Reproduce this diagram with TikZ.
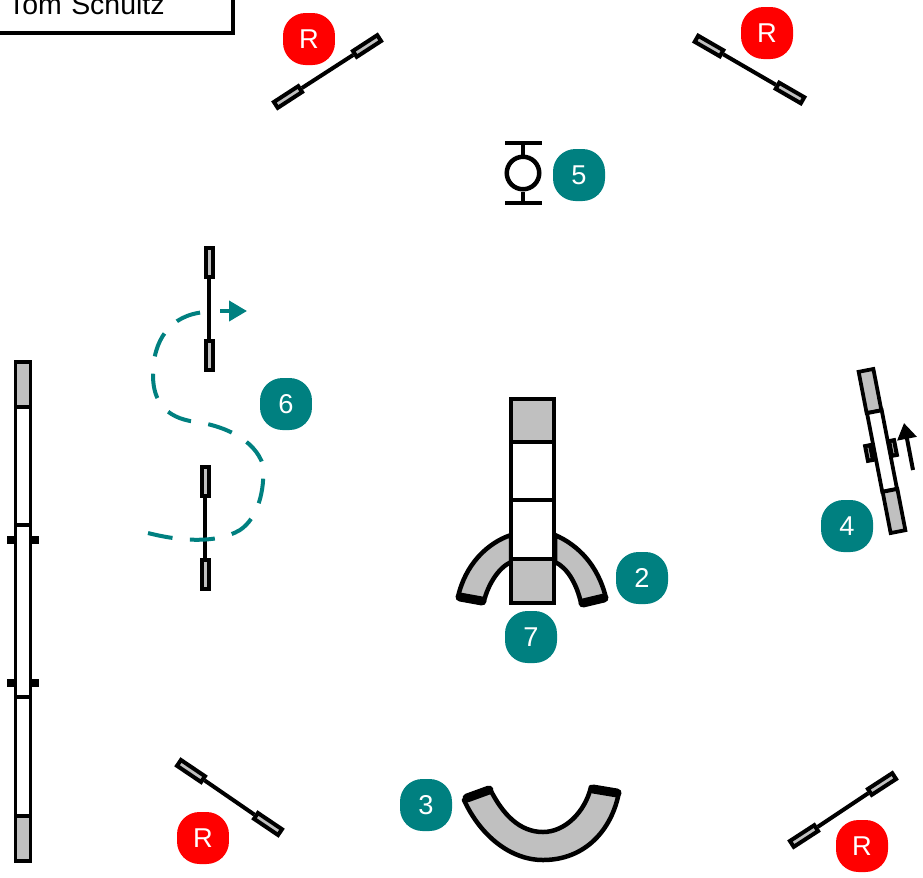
\documentclass[tikz,border=0pt]{standalone}
\usepackage{fontspec}
\setmainfont{Liberation Sans}
\usetikzlibrary{arrows.meta, shapes.geometric}
\definecolor{badgeteal}{HTML}{008080}
\definecolor{badgered}{HTML}{FF0000}
\definecolor{gearsilver}{HTML}{C0C0C0}

\begin{document}
\begin{tikzpicture}[
  x=0.02cm, y=-0.02cm,
  badge/.style={rectangle, fill=badgeteal, text=white, rounded corners=0.45cm, minimum size=1.04cm, inner sep=0pt, font=\fontsize{15.5}{15.5}\selectfont},
  refbadge/.style={badge, fill=badgered},
  wing/.style={rectangle, draw=black, fill=gearsilver, line width=0.08cm, minimum width=0.58cm, minimum height=0.14cm, inner sep=0pt},
  bar/.style={draw=black, line width=0.08cm},
  plank/.style={rectangle, draw=black, fill=white, line width=0.075cm, minimum width=0.3cm, inner sep=0pt},
  stub/.style={rectangle, draw=black, fill=gearsilver, line width=0.08cm, minimum width=0.1cm, minimum height=0.08cm, inner sep=0pt},
  tube/.style={draw=black, fill=gearsilver, line width=0.09cm, line join=round},
  tubeend/.style={draw=black, line width=0.18cm, line cap=round},
  walk/.style={draw=badgeteal, line width=0.08cm, dash pattern=on 0.5cm off 0.35cm},
  walkend/.style={draw=badgeteal, line width=0.08cm, -{Triangle[length=0.36cm, width=0.4cm]}}
]
  \useasboundingbox (0,0) rectangle (923,877);

  % Name card
  \node[rectangle, draw=black, line width=0.08cm, minimum width=4.86cm, minimum height=1.16cm, inner xsep=0.36cm, text width=4.14cm, align=left, font=\fontsize{16.2}{16.2}\selectfont] (namecard) at (111.5,4) {Tom Schultz};

  % Jumps
  \node[wing, rotate=33] (jumpAa) at (288,97) {};
  \node[wing, rotate=33] (jumpAb) at (367,46) {};
  \node[wing, rotate=-30] (jumpBa) at (709,46) {};
  \node[wing, rotate=-30] (jumpBb) at (790,93) {};
  \node[wing, rotate=-34] (jumpCa) at (191,771) {};
  \node[wing, rotate=-34] (jumpCb) at (268,824) {};
  \node[wing, rotate=33] (jumpDa) at (804,836) {};
  \node[wing, rotate=33] (jumpDb) at (882,784) {};
  \node[wing, rotate=90] (jumpEa) at (209,262) {};
  \node[wing, rotate=90] (jumpEb) at (209,355) {};
  \node[wing, rotate=90] (jumpFa) at (205,481) {};
  \node[wing, rotate=90] (jumpFb) at (205,574) {};
  \draw[bar] (jumpAa) -- (jumpAb);
  \draw[bar] (jumpBa) -- (jumpBb);
  \draw[bar] (jumpCa) -- (jumpCb);
  \draw[bar] (jumpDa) -- (jumpDb);
  \draw[bar] (jumpEa) -- (jumpEb);
  \draw[bar] (jumpFa) -- (jumpFb);

  % Tire
  \node[circle, draw=black, line width=0.09cm, minimum size=0.65cm, inner sep=0pt] (tire) at (523,173) {};
  \coordinate (tiretop) at (523,143);
  \coordinate (tirebot) at (523,203);
  \draw[bar] (505,143) -- (542,143);
  \draw[bar] (505,203) -- (542,203);
  \draw[bar] (tiretop) -- (tire);
  \draw[bar] (tirebot) -- (tire);

  % Dog walk
  \foreach \y in {540,683} {
    \node[stub] at (11,\y) {};
    \node[stub] at (35,\y) {};
  }
  \node[plank, minimum height=0.9cm, fill=gearsilver] (walktop) at (23,384.5) {};
  \node[plank, minimum height=2.36cm] (walkup) at (23,466) {};
  \node[plank, minimum height=3.44cm] (walkmid) at (23,611) {};
  \node[plank, minimum height=2.38cm] (walkdown) at (23,756.5) {};
  \node[plank, minimum height=0.9cm, fill=gearsilver] (walkbot) at (23,838.5) {};

  % Seesaw
  \node[stub, rotate=11, minimum width=0.1cm, minimum height=0.3cm] (seesawL) at (869,453) {};
  \node[stub, rotate=11, minimum width=0.1cm, minimum height=0.3cm] (seesawR) at (893,448) {};
  \node[plank, rotate=11, minimum height=0.84cm, fill=gearsilver] (seesawtop) at (870,391) {};
  \node[plank, rotate=11, minimum height=1.6cm] (seesawmid) at (882,451) {};
  \node[plank, rotate=11, minimum height=0.84cm, fill=gearsilver] (seesawbot) at (894,511) {};
  \coordinate (climbfrom) at (913,470);
  \coordinate (climbto) at (904,423);
  \draw[draw=black, line width=0.08cm, -{Triangle[length=0.32cm, width=0.38cm]}] (climbfrom) -- (climbto);

  % Tunnel behind the teeter
  \draw[tube] (458,597) .. controls (465,565) and (487,543) .. (511,535) -- (511,562) .. controls (498,568) and (488,585) .. (484,601);
  \draw[tube] (606,598) .. controls (598,565) and (578,545) .. (555,535) -- (555,562) .. controls (568,568) and (577,585) .. (581,603);
  \draw[tubeend] (460,597) -- (482,601);
  \draw[tubeend] (604,598) -- (583,603);

  % Teeter
  \node[plank, minimum width=0.86cm, minimum height=0.87cm, fill=gearsilver] (teetertop) at (532.8,420.5) {};
  \node[plank, minimum width=0.86cm, minimum height=1.16cm] (teeterup) at (532.8,471) {};
  \node[plank, minimum width=0.86cm, minimum height=1.18cm] (teeterdown) at (532.8,529.5) {};
  \node[plank, minimum width=0.86cm, minimum height=0.88cm, fill=gearsilver] (teeterbot) at (532.8,581) {};

  % Tunnel at the bottom
  \draw[tube] (464,800) .. controls (480,835) and (510,860) .. (543,860) .. controls (585,860) and (612,830) .. (619,792) -- (591,787) .. controls (585,812) and (565,832) .. (543,832) .. controls (520,832) and (503,815) .. (490,789) -- cycle;
  \draw[tubeend] (467,798) -- (489,790);
  \draw[tubeend] (593,789) -- (617,793);

  % Handler path
  \coordinate (pathstart) at (148,533);
  \coordinate (pathturn) at (220,311);
  \coordinate (pathend) at (247,311);
  \draw[walk] (pathstart) .. controls (175,540) and (215,545) .. (240,530) .. controls (258,518) and (265,490) .. (263,465) .. controls (255,440) and (225,425) .. (190,421) .. controls (160,415) and (153,395) .. (153,375) .. controls (153,340) and (170,315) .. (205,312);
  \draw[walkend] (pathturn) -- (pathend);

  % Badges
  \node[refbadge] (refA) at (309,39) {R};
  \node[refbadge] (refB) at (767,33) {R};
  \node[refbadge] (refC) at (203,838) {R};
  \node[refbadge] (refD) at (862,846) {R};
  \node[badge] (five) at (579,175) {5};
  \node[badge] (six) at (286,404) {6};
  \node[badge] (two) at (642,578) {2};
  \node[badge] (seven) at (531,637) {7};
  \node[badge] (four) at (847,526) {4};
  \node[badge] (three) at (426,805) {3};
\end{tikzpicture}
\end{document}
